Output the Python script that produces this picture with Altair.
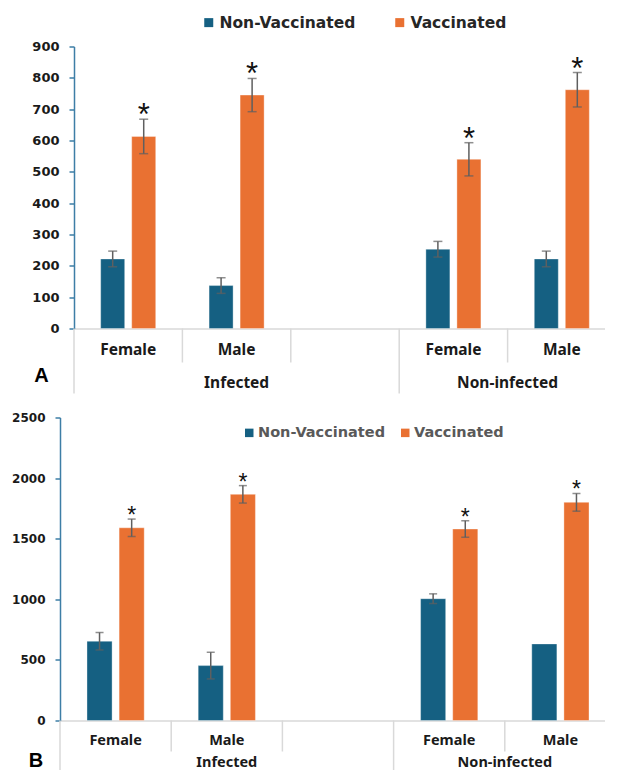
import altair as alt
import pandas as pd

# ---------------- data ----------------
groups = ["Infected", "Infected", "Infected", "Non-infected", "Non-infected"]
sexes = ["Female", "Male", "", "Female", "Male"]
series = ["Non-Vaccinated", "Vaccinated"]
colors = ["#156082", "#E97132"]

# Panel A
a_nonvacc = [222, 137, None, 253, 222]
a_nonvacc_err = [25, 25, None, 25, 25]
a_vacc = [613, 745, None, 540, 762]
a_vacc_err = [55, 53, None, 53, 55]
a_vacc_sig = ["*", "*", "", "*", "*"]
a_ticks = [0, 100, 200, 300, 400, 500, 600, 700, 800, 900]

# Panel B
b_nonvacc = [654, 453, None, 1005, 632]
b_nonvacc_err = [72, 110, None, 40, None]
b_vacc = [1590, 1866, None, 1580, 1800]
b_vacc_err = [72, 72, None, 68, 73]
b_vacc_sig = ["*", "*", "", "*", "*"]
b_ticks = [0, 500, 1000, 1500, 2000, 2500]

slot_keys = [f"{g}|{s}" for g, s in zip(groups, sexes)]


def build_tables(nonvacc, nonvacc_err, vacc, vacc_err, vacc_sig):
    bars, errs, caps, stars = [], [], [], []
    for i, key in enumerate(slot_keys):
        for name, vals, ev, sig in ((series[0], nonvacc, nonvacc_err, None),
                                    (series[1], vacc, vacc_err, vacc_sig)):
            v = vals[i]
            if v is None:
                continue
            bars.append({"slot": key, "series": name, "value": v})
            e = ev[i]
            if e is None:
                continue
            errs.append({"slot": key, "series": name, "lo": v - e, "hi": v + e})
            caps.append({"slot": key, "series": name, "cap": v - e})
            caps.append({"slot": key, "series": name, "cap": v + e})
            if sig and sig[i]:
                stars.append({"slot": key, "series": name, "hi": v + e, "sig": sig[i]})
    return (pd.DataFrame(bars), pd.DataFrame(errs), pd.DataFrame(caps),
            pd.DataFrame(stars))


seps = pd.DataFrame({
    "slot": slot_keys,
    "kind": ["group" if i == 0 or groups[i] != groups[i - 1] else "inner"
             for i in range(len(groups))],
})

glab_rows = []
for g in dict.fromkeys(groups):
    idx = [i for i, gg in enumerate(groups) if gg == g]
    glab_rows.append({"group": g, "slot": slot_keys[idx[len(idx) // 2]],
                      "parity": "odd" if len(idx) % 2 else "even"})
glabels = pd.DataFrame(glab_rows)


def panel(letter, nonvacc, nonvacc_err, vacc, vacc_err, vacc_sig, ticks, st):
    bars, errs, caps, stars = build_tables(nonvacc, nonvacc_err, vacc, vacc_err, vacc_sig)
    W, H = st["width"], st["height"]
    xscale = alt.Scale(domain=slot_keys, range=[st["x0"], W],
                       paddingInner=0, paddingOuter=0)
    xaxis = alt.Axis(title=None, labelExpr="split(datum.value, '|')[1]",
                     ticks=False, tickSize=0, domainColor="#d9d9d9", domainWidth=1.5,
                     labelFont="Noto Sans", labelFontSize=st["cat_size"],
                     labelFontWeight="bold", labelColor="#1a1a1a",
                     labelPadding=st["cat_pad"], labelBaseline="middle",
                     labelAngle=0, grid=False)
    X = alt.X("slot:N", scale=xscale, axis=xaxis)
    XO = alt.XOffset("series:N", scale=alt.Scale(domain=series,
                                                 paddingInner=st["pi"],
                                                 paddingOuter=st["po"]))
    yscale = alt.Scale(domain=[ticks[0], ticks[-1]], nice=False, zero=True)
    yaxis = alt.Axis(title=None, values=ticks, grid=False, format="d",
                     domainColor="#3d7ea6", domainWidth=1.5,
                     tickColor="#3d7ea6", tickSize=5, tickWidth=1.5,
                     labelFont="DejaVu Sans", labelFontSize=st["ytick_size"],
                     labelFontWeight="bold", labelColor="#1a1a1a",
                     labelPadding=st["ytick_pad"], offset=st["yoffset"])

    legend = alt.Legend(orient="none", legendX=st["legx"], legendY=st["legy"],
                        direction="horizontal", title=None, symbolType="square",
                        symbolSize=st["sym"], symbolStrokeWidth=0,
                        labelFont="DejaVu Sans", labelFontSize=st["leg_size"],
                        labelFontWeight="bold", labelColor=st["leg_color"],
                        labelOffset=st["leg_off"], columnPadding=st["leg_col"],
                        padding=0, labelLimit=400)

    bar_layer = alt.Chart(bars).mark_bar(stroke="white", strokeWidth=1,
                                          strokeOpacity=0.35).encode(
        x=X, xOffset=XO,
        y=alt.Y("value:Q", scale=yscale, axis=yaxis),
        color=alt.Color("series:N", scale=alt.Scale(domain=series, range=colors),
                        legend=legend),
    )
    err_layer = alt.Chart(errs).mark_rule(color="#5f5f5f", strokeWidth=1.5).encode(
        x=X, xOffset=XO,
        y=alt.Y("lo:Q", scale=yscale, axis=yaxis), y2="hi:Q",
    )
    cap_layer = alt.Chart(caps).mark_tick(color="#5f5f5f", thickness=1.5,
                                          size=st["cap"]).encode(
        x=X, xOffset=XO,
        y=alt.Y("cap:Q", scale=yscale, axis=yaxis),
    )
    star_layer = alt.Chart(stars).mark_text(font="Liberation Sans",
                                            fontSize=st["star_size"],
                                            baseline="alphabetic",
                                            dy=st["star_dy"], color="#111111").encode(
        x=X, xOffset=XO,
        y=alt.Y("hi:Q", scale=yscale, axis=yaxis),
        text="sig:N",
    )
    Xb = alt.X("slot:N", scale=xscale, axis=xaxis, bandPosition=0)
    sep_inner = alt.Chart(seps).transform_filter("datum.kind == 'inner'").mark_rule(
        color="#d9d9d9", strokeWidth=1.5).encode(
        x=Xb, y=alt.value(H), y2=alt.value(H + st["inner_len"]))
    sep_group = alt.Chart(seps).transform_filter("datum.kind == 'group'").mark_rule(
        color="#d9d9d9", strokeWidth=1.5).encode(
        x=Xb, y=alt.value(H), y2=alt.value(H + st["group_len"]))

    gl_style = dict(font="Noto Sans", fontSize=st["cat_size"], fontWeight="bold",
                    color="#1a1a1a", baseline="middle")
    gl_odd = alt.Chart(glabels).transform_filter("datum.parity == 'odd'").mark_text(
        **gl_style).encode(
        x=alt.X("slot:N", scale=xscale, axis=xaxis, bandPosition=0.5),
        y=alt.value(H + st["group_lab"]), text="group:N")
    gl_even = alt.Chart(glabels).transform_filter("datum.parity == 'even'").mark_text(
        **gl_style).encode(
        x=alt.X("slot:N", scale=xscale, axis=xaxis, bandPosition=0),
        y=alt.value(H + st["group_lab"]), text="group:N")

    letter_layer = alt.Chart(pd.DataFrame({"lab": [letter]})).mark_text(
        font="Liberation Sans", fontSize=20, fontWeight="bold", color="#000000",
        baseline="alphabetic").encode(
        x=alt.value(st["let_x"]), y=alt.value(H + st["let_y"]), text="lab:N")

    return alt.layer(bar_layer, err_layer, cap_layer, star_layer, sep_inner,
                     sep_group, gl_odd, gl_even, letter_layer).properties(
        width=W, height=H)


style_a = dict(width=542, x0=0, yoffset=0, height=282, pi=0.2258, po=0.86,
               cat_size=15.5, cat_pad=21, ytick_size=13, ytick_pad=10,
               legx=127, legy=-32, sym=81, leg_size=15.5, leg_color="#262626",
               leg_off=3, leg_col=36, cap=9, star_size=31, star_dy=6,
               inner_len=34, group_len=65, group_lab=54, let_x=-32.5, let_y=53)
style_b = dict(width=542, x0=-14, yoffset=14, height=303, pi=0.219, po=0.84,
               cat_size=14.5, cat_pad=20, ytick_size=12, ytick_pad=10,
               legx=168, legy=8, sym=72, leg_size=14.5, leg_color="#595959",
               leg_off=1.5, leg_col=12, cap=8, star_size=23, star_dy=4,
               inner_len=31, group_len=60, group_lab=42, let_x=-38, let_y=46)

panel_a = panel("A", a_nonvacc, a_nonvacc_err, a_vacc, a_vacc_err, a_vacc_sig,
                a_ticks, style_a)
panel_b = panel("B", b_nonvacc, b_nonvacc_err, b_vacc, b_vacc_err, b_vacc_sig,
                b_ticks, style_b)

chart = alt.vconcat(panel_a, panel_b, spacing=17).resolve_scale(
    color="independent", x="independent", y="independent", xOffset="independent"
).resolve_legend(color="independent").properties(
    padding={"left": 3, "top": 6.5, "right": -25, "bottom": -11.5}
).configure_view(stroke=None)

chart.save("out.html", embed_options={"renderer": "svg", "actions": False})
